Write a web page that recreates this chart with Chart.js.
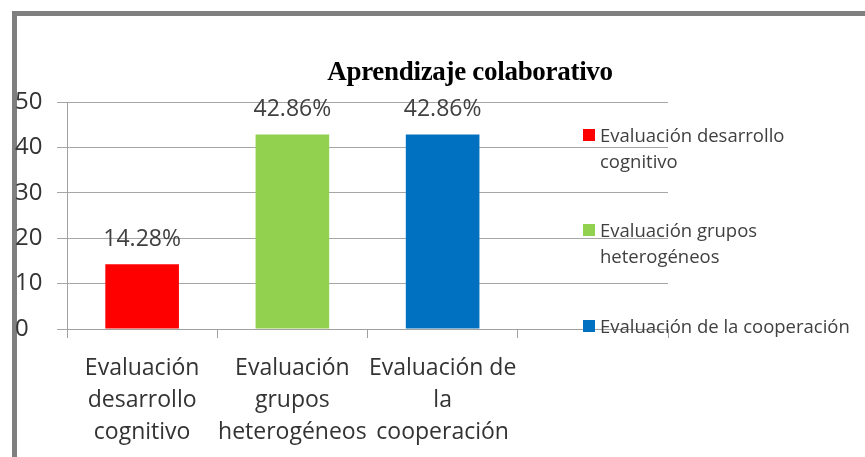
<!DOCTYPE html>
<html lang="es">
<head>
<meta charset="UTF-8">
<title>Aprendizaje colaborativo</title>
<script src="https://cdn.jsdelivr.net/npm/chart.js"></script>
<style>
  body { margin: 0; background: #fff; }
  #wrap { position: relative; width: 865px; height: 457px; overflow: hidden; }
  #frame {
    position: absolute; left: 12px; top: 11px; width: 900px; height: 500px;
    border-left: 5px solid #7f7f7f; border-top: 5px solid #7f7f7f;
  }
  #chart { position: absolute; left: 0; top: 0; }
  #title {
    position: absolute; left: 270px; width: 400px; top: 55px; text-align: center;
    font: bold 27px "Liberation Serif", serif; line-height: 32px; color: #000;
    letter-spacing: -0.3px;
  }
  .leg {
    position: absolute; left: 583px; font: 18.5px "Open Sans", sans-serif;
    line-height: 26px; color: #404040; white-space: nowrap;
  }
  .leg i { position: absolute; left: 0; top: 7px; width: 12px; height: 12px; }
  .leg span { display: block; margin-left: 17px; }
</style>
</head>
<body>
<div id="wrap">
  <div id="frame"></div>
  <canvas id="chart" width="865" height="457"></canvas>
  <div id="title"></div>
  <div id="legend"></div>
</div>
<script>
const chartTitle = 'Aprendizaje colaborativo';
const categories = [
  ['Evaluación', 'desarrollo', 'cognitivo'],
  ['Evaluación', 'grupos', 'heterogéneos'],
  ['Evaluación de', 'la', 'cooperación'],
  ''
];
const values = [14.28, 42.86, 42.86, null];
const barColors = ['#ff0000', '#92d050', '#0070c0', '#ffffff'];
const legendLabels = [
  ['Evaluación desarrollo', 'cognitivo'],
  ['Evaluación grupos', 'heterogéneos'],
  ['Evaluación de la cooperación']
];
const legendTops = [122, 217, 313];

document.getElementById('title').textContent = chartTitle;
const legendBox = document.getElementById('legend');
legendLabels.forEach((lines, i) => {
  const item = document.createElement('div');
  item.className = 'leg';
  item.style.top = legendTops[i] + 'px';
  item.innerHTML = '<i style="background:' + barColors[i] + '"></i><span>' + lines.join('<br>') + '</span>';
  legendBox.appendChild(item);
});

// percentage labels above each bar
const valueLabels = {
  id: 'valueLabels',
  afterDatasetsDraw(chart) {
    const ctx = chart.ctx;
    const meta = chart.getDatasetMeta(0);
    ctx.save();
    ctx.font = '23px "Open Sans"';
    ctx.fillStyle = '#404040';
    ctx.textAlign = 'center';
    ctx.textBaseline = 'middle';
    meta.data.forEach((bar, i) => {
      if (values[i] == null) return;
      ctx.fillText(values[i].toFixed(2) + '%', bar.x, bar.y - 25);
    });
    ctx.restore();
  }
};

new Chart(document.getElementById('chart').getContext('2d'), {
  type: 'bar',
  data: {
    labels: categories,
    datasets: [{
      data: values,
      backgroundColor: barColors,
      categoryPercentage: 1,
      barPercentage: 0.49
    }]
  },
  options: {
    responsive: false,
    animation: false,
    layout: { padding: { left: 15, right: 197, top: 102, bottom: 0 } },
    plugins: { legend: { display: false }, title: { display: false }, tooltip: { enabled: false } },
    scales: {
      x: {
        offset: true,
        grid: { offset: true, drawOnChartArea: false, tickLength: 9, color: '#a0a0a0' },
        border: { color: '#a0a0a0' },
        ticks: {
          color: '#333', padding: 14, maxRotation: 0, autoSkip: false,
          font: { family: 'Open Sans', size: 23, lineHeight: 1.4 }
        },
        afterFit: s => { s.height = 128; }
      },
      y: {
        min: 0, max: 50,
        grid: { tickLength: 10, color: '#a6a6a6' },
        border: { color: '#a0a0a0' },
        ticks: {
          stepSize: 10, crossAlign: 'far', color: '#333',
          font: { family: 'Open Sans', size: 24 }
        },
        afterFit: s => { s.width = 52; }
      }
    }
  },
  plugins: [valueLabels]
});
</script>
</body>
</html>
